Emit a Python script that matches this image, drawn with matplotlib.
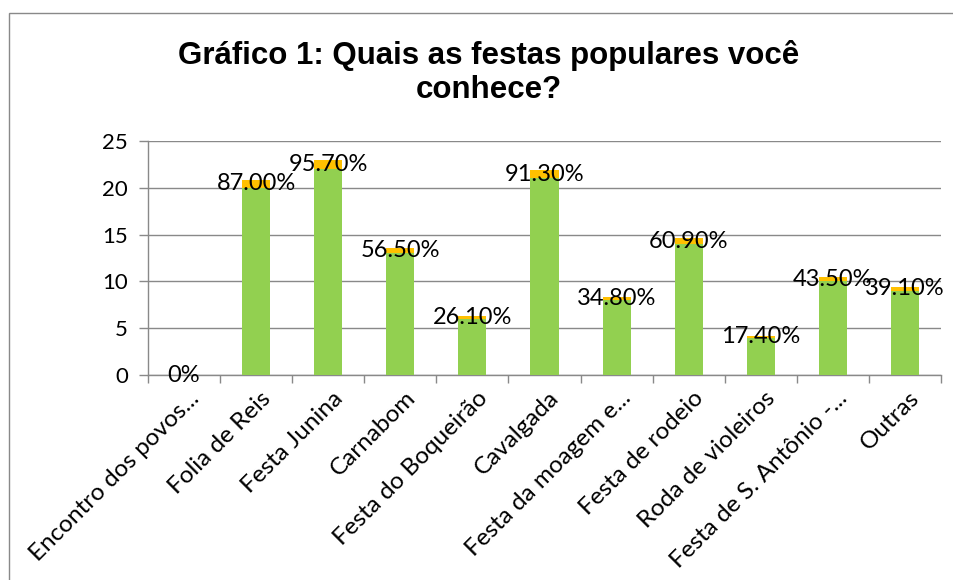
import matplotlib.pyplot as plt
from matplotlib.patches import Rectangle
from matplotlib.transforms import ScaledTranslation

# dados do gráfico
festas = ['Encontro dos povos...', 'Folia de Reis', 'Festa Junina', 'Carnabom',
          'Festa do Boqueirão', 'Cavalgada', 'Festa da moagem e...',
          'Festa de rodeio', 'Roda de violeiros', 'Festa de S. Antônio -...',
          'Outras']
respostas = [0, 20, 22, 13, 6, 21, 8, 14, 4, 10, 9]
percentuais = [0, 0.87, 0.957, 0.565, 0.261, 0.913, 0.348, 0.609, 0.174, 0.435, 0.391]
rotulos = ['0%', '87.00%', '95.70%', '56.50%', '26.10%', '91.30%', '34.80%',
           '60.90%', '17.40%', '43.50%', '39.10%']

verde = '#92D050'
amarelo = '#FFC000'
cinza = '#898989'

plt.rcParams['font.family'] = ['Lato', 'DejaVu Sans']

fig = plt.figure(figsize=(9.54, 5.80), dpi=100)
ax = fig.add_axes([148 / 954, 205 / 580, 793 / 954, 234 / 580])

x = [i + 0.5 for i in range(len(festas))]
ax.bar(x, respostas, width=0.39, color=verde, zorder=3)
ax.bar(x, percentuais, width=0.39, bottom=respostas, color=amarelo, zorder=3)

for xi, r, p, txt in zip(x, respostas, percentuais, rotulos):
    ax.text(xi, r + p / 2, txt, ha='center', va='center', fontsize=17,
            color='black', zorder=4)

ax.set_xlim(0, len(festas))
ax.set_ylim(0, 25)
ax.set_yticks([0, 5, 10, 15, 20, 25])
ax.grid(axis='y', color=cinza, linewidth=1, zorder=0)

ax.set_xticks(range(len(festas) + 1))
ax.set_xticklabels([])
ax.set_xticks(x, minor=True)
ax.set_xticklabels(festas, minor=True, rotation=45, ha='right',
                   rotation_mode='anchor', fontsize=17.5)
ax.tick_params(axis='x', which='major', length=6, color=cinza, width=1)
ax.tick_params(axis='x', which='minor', length=0, pad=9)
ax.tick_params(axis='y', length=6.5, color=cinza, width=1, labelsize=16, pad=8)
for lab in ax.get_xticklabels(minor=True):
    lab.set_transform(lab.get_transform() + ScaledTranslation(4 / 100, 0, fig.dpi_scale_trans))

for s in ['top', 'right']:
    ax.spines[s].set_visible(False)
for s in ['left', 'bottom']:
    ax.spines[s].set_color(cinza)
    ax.spines[s].set_linewidth(1)

fig.text(489 / 954, 1 - 64 / 580, 'Gráfico 1: Quais as festas populares você',
         ha='center', va='baseline', fontsize=22.5, fontweight='bold',
         family='Liberation Sans')
fig.text(489 / 954, 1 - 98 / 580, 'conhece?',
         ha='center', va='baseline', fontsize=22.5, fontweight='bold',
         family='Liberation Sans')

# moldura do gráfico
fig.patches.append(Rectangle((9.5 / 954, -0.1), 1.2, 1 - 13.5 / 580 + 0.1,
                             transform=fig.transFigure, fill=False,
                             edgecolor=cinza, linewidth=1))

fig.savefig('out.png', dpi=100)
